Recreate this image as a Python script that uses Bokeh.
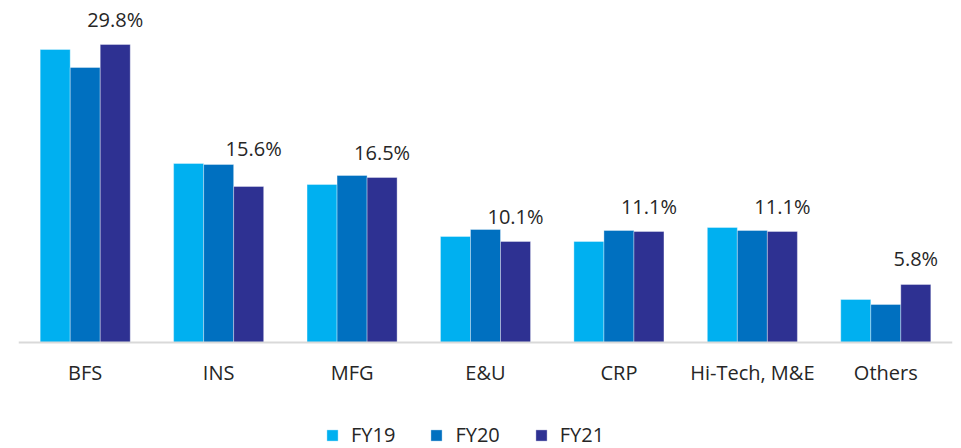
from bokeh.plotting import figure
from bokeh.models import ColumnDataSource, FactorRange, Range1d, Legend, LegendItem, LabelSet, Span
from bokeh.transform import dodge
from bokeh.core.properties import value
from bokeh.embed import file_html
from bokeh.resources import INLINE

categories = ["BFS", "INS", "MFG", "E&U", "CRP", "Hi-Tech, M&E", "Others"]
series = ["FY19", "FY20", "FY21"]
fy19 = [29.3, 17.9, 15.8, 10.6, 10.1, 11.5, 4.3]
fy20 = [27.5, 17.8, 16.7, 11.3, 11.2, 11.2, 3.8]
fy21 = [29.8, 15.6, 16.5, 10.1, 11.1, 11.1, 5.8]
fy21_labels = ["29.8%", "15.6%", "16.5%", "10.1%", "11.1%", "11.1%", "5.8%"]

colors = ["#00B0F0", "#0070C0", "#2E3192"]
FONT = "Open Sans"
TEXT = "#262626"

# label nudges (px, upward positive) as in the source
label_dx = [0, 5, 0, 0, 0, 0, 0]
label_dy = [18, 31, 18, 18, 18, 18, 19]

src = ColumnDataSource(dict(cat=categories, FY19=fy19, FY20=fy20, FY21=fy21,
                            lab=fy21_labels, dx=label_dx, dy=label_dy,
                            zero=[0] * len(categories)))

p = figure(x_range=FactorRange(*categories, range_padding=0),
           y_range=Range1d(-10.6, 33.4),
           width=953, height=448,
           x_axis_location=None, y_axis_location=None,
           output_backend="svg", toolbar_location=None,
           min_border_left=18, min_border_right=1, min_border_top=8, min_border_bottom=0)
p.outline_line_color = None
p.grid.visible = False
p.background_fill_color = "white"
p.border_fill_color = "white"

bw = 0.225
offs = [-bw, 0, bw]
renderers = []
for s, c, o in zip(series, colors, offs):
    r = p.vbar(x=dodge("cat", o, range=p.x_range), top=s, bottom=0, width=bw, source=src,
               fill_color=c, line_color="white", line_alpha=0.35, line_width=1)
    renderers.append(r)

# baseline (category axis line)
p.add_layout(Span(location=0, dimension="width", line_color="#D9D9D9", line_width=2))

# category labels
cat_labels = LabelSet(x="cat", y="zero", text="cat", y_offset=-30, source=src,
                      text_align="center", text_baseline="middle", text_font=value(FONT),
                      text_font_size="20px", text_color=TEXT)
p.add_layout(cat_labels)

# FY21 value labels
labels = LabelSet(x=dodge("cat", bw, range=p.x_range), y="FY21", text="lab",
                  x_offset="dx", y_offset="dy", source=src, text_align="center",
                  text_baseline="alphabetic", text_font=value(FONT),
                  text_font_size="20px", text_color=TEXT)
p.add_layout(labels)

legend = Legend(items=[LegendItem(label=s, renderers=[r]) for s, r in zip(series, renderers)],
                orientation="horizontal", location=(307, 0),
                glyph_width=14, glyph_height=14, label_standoff=12, spacing=34,
                label_text_font=FONT, label_text_font_size="20px", label_text_color=TEXT,
                border_line_color=None, background_fill_alpha=0, padding=0, margin=0)
p.add_layout(legend, "center")

open("out.html", "w").write(file_html(p, INLINE))
